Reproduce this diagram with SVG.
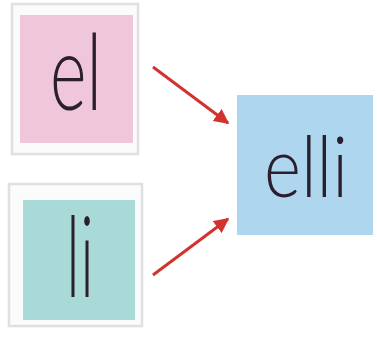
<svg xmlns="http://www.w3.org/2000/svg" width="377" height="338" viewBox="0 0 377 338">
<style>
.frame{fill:#fbfbfc;stroke:#e0dfe4;stroke-width:2.5}
.word{font-family:Lato,"Open Sans",sans-serif;font-weight:300;fill:#2b1f2e}
.arrow{stroke:#d2332f;stroke-width:3;fill:none;marker-end:url(#ah)}
</style>
<defs>
<marker id="ah" viewBox="0 0 10 10" refX="9" refY="5" markerWidth="5" markerHeight="5" orient="auto" markerUnits="strokeWidth">
<path d="M0,0 L10,5 L0,10 z" fill="#d2332f"/>
</marker>
</defs>
<rect width="377" height="338" fill="#ffffff"/>
<g id="node-el">
<rect class="frame" x="12" y="4" width="126" height="150"/>
<rect x="20" y="15" width="113" height="128" fill="#f0c6da"/>
<text class="word" x="50" y="110" font-size="106" textLength="52" lengthAdjust="spacingAndGlyphs">el</text>
</g>
<g id="node-li">
<rect class="frame" x="9" y="184" width="133" height="142"/>
<rect x="23" y="200" width="112" height="120" fill="#a9dad8"/>
<text class="word" x="66" y="297" font-size="112" textLength="28" lengthAdjust="spacingAndGlyphs">li</text>
</g>
<g id="node-elli">
<rect x="237" y="95" width="136" height="140" fill="#aed6ee"/>
<text class="word" x="264" y="197" font-size="84" textLength="84" lengthAdjust="spacingAndGlyphs">elli</text>
</g>
<g id="connectors">
<line class="arrow" x1="153" y1="67" x2="228" y2="123"/>
<line class="arrow" x1="153" y1="275" x2="228" y2="219"/>
</g>
</svg>
